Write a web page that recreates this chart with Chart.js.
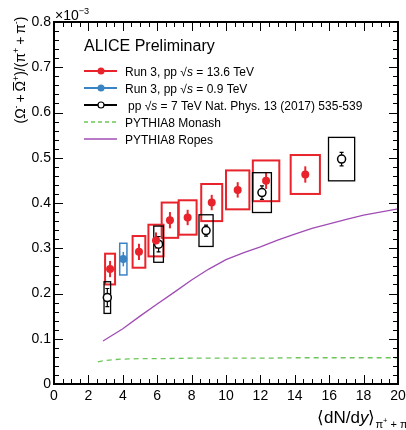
<!DOCTYPE html>
<html>
<head>
<meta charset="utf-8">
<script src="https://cdn.jsdelivr.net/npm/chart.js@4.4.1/dist/chart.umd.min.js"></script>
<style>
  html, body { margin: 0; padding: 0; background: #fff; }
  #wrap { width: 406px; height: 430px; position: relative; }
</style>
</head>
<body>
<div id="wrap"><canvas id="chart" width="406" height="430"></canvas></div>
<script>
'use strict';

// ── Data (values in units of 10^-3) ───────────────────────────
const run3HighX    = [3.26, 4.94, 5.93, 6.74, 7.77, 9.17, 10.68, 12.33, 14.61];
const run3HighY    = [0.254, 0.292, 0.317, 0.362, 0.368, 0.401, 0.429, 0.449, 0.463];
const run3HighStat = [0.018, 0.018, 0.018, 0.018, 0.017, 0.017, 0.017, 0.018, 0.018];
const run3HighSysX = [0.29, 0.37, 0.44, 0.48, 0.52, 0.61, 0.68, 0.77, 0.85];
const run3HighSysY = [0.034, 0.035, 0.035, 0.039, 0.038, 0.041, 0.043, 0.045, 0.043];

const run3LowX    = [4.03];
const run3LowY    = [0.276];
const run3LowStat = [0.016];
const run3LowSysX = [0.21];
const run3LowSysY = [0.035];

const pp7X    = [3.10, 6.08, 8.84, 12.09, 16.72];
const pp7Y    = [0.191, 0.309, 0.339, 0.423, 0.497];
const pp7Stat = [0.020, 0.017, 0.012, 0.015, 0.015];
const pp7SysX = [0.19, 0.28, 0.41, 0.55, 0.76];
const pp7SysY = [0.035, 0.040, 0.035, 0.044, 0.048];

const monashX = [2.55, 3.0, 3.5, 4, 5, 6, 8, 10, 12, 14, 16, 18, 20];
const monashY = [0.049, 0.052, 0.054, 0.055, 0.056, 0.056, 0.057, 0.057, 0.057, 0.058, 0.058, 0.058, 0.058];

const ropesX = [2.85, 4, 5, 6, 7, 8, 9, 10, 11, 12, 13, 14, 15, 16, 17, 18, 20];
const ropesY = [0.095, 0.122, 0.150, 0.177, 0.203, 0.230, 0.254, 0.275, 0.290, 0.303, 0.318, 0.331, 0.344, 0.354, 0.364, 0.373, 0.387];

const xTicks = [0, 2, 4, 6, 8, 10, 12, 14, 16, 18, 20];
const yTicks = [0, 0.1, 0.2, 0.3, 0.4, 0.5, 0.6, 0.7, 0.8];

// ── Colours ───────────────────────────────────────────────────
const RED    = '#e8232b';
const BLUE   = '#3b84c4';
const BLACK  = '#000000';
const GREEN  = '#6cc65a';
const PURPLE = '#a04cb4';
const FONT   = '"Liberation Sans", Arial, sans-serif';

const zip = (xs, ys) => xs.map((x, i) => ({ x, y: ys[i] }));

// text pieces: {t, sup, sub, subsup, it, over}
function pieceSize(p, size) {
  if (p.subsup) return size * 0.45;
  return (p.sup || p.sub) ? size * 0.65 : size;
}
function richWidth(ctx, parts, size) {
  let w = 0;
  parts.forEach(p => {
    ctx.font = (p.it ? 'italic ' : '') + pieceSize(p, size) + 'px ' + FONT;
    w += ctx.measureText(p.t).width;
  });
  return w;
}
function drawRich(ctx, x, y, parts, size) {
  ctx.textBaseline = 'alphabetic';
  ctx.textAlign = 'left';
  parts.forEach(p => {
    ctx.font = (p.it ? 'italic ' : '') + pieceSize(p, size) + 'px ' + FONT;
    let dy = 0;
    if (p.sup) dy = -size * 0.45;
    if (p.sub) dy = size * 0.3;
    if (p.subsup) dy = 0;
    ctx.fillText(p.t, x, y + dy);
    const w = ctx.measureText(p.t).width;
    if (p.over) {
      ctx.save();
      ctx.lineWidth = 1;
      ctx.beginPath();
      ctx.moveTo(x + 1, y - size * 0.82);
      ctx.lineTo(x + w - 1, y - size * 0.82);
      ctx.stroke();
      ctx.restore();
    }
    x += w;
  });
  return x;
}

// ── Boxes + error bars (under the markers) ────────────────────
function drawUncertainties(chart) {
  const ctx = chart.ctx, xs = chart.scales.x, ys = chart.scales.y;
  const groups = [
    { x: run3HighX, y: run3HighY, st: run3HighStat, sx: run3HighSysX, sy: run3HighSysY, c: RED,   bw: 2,   ew: 2,   cap: 0 },
    { x: run3LowX,  y: run3LowY,  st: run3LowStat,  sx: run3LowSysX,  sy: run3LowSysY,  c: BLUE,  bw: 1.5, ew: 1.5, cap: 0 },
    { x: pp7X,      y: pp7Y,      st: pp7Stat,      sx: pp7SysX,      sy: pp7SysY,      c: BLACK, bw: 1.3, ew: 1.2, cap: 2 }
  ];
  ctx.save();
  groups.forEach(g => {
    g.x.forEach((xv, i) => {
      const l = xs.getPixelForValue(xv - g.sx[i]);
      const r = xs.getPixelForValue(xv + g.sx[i]);
      const t = ys.getPixelForValue(g.y[i] + g.sy[i]);
      const b = ys.getPixelForValue(g.y[i] - g.sy[i]);
      ctx.strokeStyle = g.c;
      ctx.lineWidth = g.bw;
      ctx.strokeRect(l, t, r - l, b - t);

      const px = xs.getPixelForValue(xv);
      const et = ys.getPixelForValue(g.y[i] + g.st[i]);
      const eb = ys.getPixelForValue(g.y[i] - g.st[i]);
      ctx.lineWidth = g.ew;
      ctx.beginPath();
      ctx.moveTo(px, et); ctx.lineTo(px, eb);
      if (g.cap) {
        ctx.moveTo(px - g.cap, et); ctx.lineTo(px + g.cap, et);
        ctx.moveTo(px - g.cap, eb); ctx.lineTo(px + g.cap, eb);
      }
      ctx.stroke();
    });
  });
  ctx.restore();
}

// ── ROOT-style frame, ticks, labels and legend ────────────────
function drawFrame(chart) {
  const ctx = chart.ctx, xs = chart.scales.x, ys = chart.scales.y;
  const { left, right, top, bottom } = chart.chartArea;
  ctx.save();
  ctx.strokeStyle = '#000';
  ctx.fillStyle = '#000';

  ctx.lineWidth = 1;
  ctx.beginPath();
  for (let v = 0; v <= 20.001; v += 0.5) {
    const px = Math.round(xs.getPixelForValue(v)) + 0.5;
    const len = Math.abs(v / 2 - Math.round(v / 2)) < 1e-6 ? 9 : 5;
    ctx.moveTo(px, bottom); ctx.lineTo(px, bottom - len);
    ctx.moveTo(px, top);    ctx.lineTo(px, top + len);
  }
  for (let k = 0; k <= 40; k++) {
    const v = k * 0.02;
    const py = Math.round(ys.getPixelForValue(v)) + 0.5;
    const len = k % 5 === 0 ? 9 : 5;
    ctx.moveTo(left, py);  ctx.lineTo(left + len, py);
    ctx.moveTo(right, py); ctx.lineTo(right - len, py);
  }
  ctx.stroke();

  ctx.lineWidth = 2;
  ctx.strokeRect(left, top, right - left, bottom - top);

  // tick labels
  ctx.font = '14px ' + FONT;
  ctx.textAlign = 'center';
  ctx.textBaseline = 'top';
  xTicks.forEach(v => ctx.fillText(String(v), xs.getPixelForValue(v), bottom + 5));
  ctx.textAlign = 'right';
  ctx.textBaseline = 'middle';
  yTicks.forEach(v => ctx.fillText(v === 0 ? '0' : v.toFixed(1), left - 3, ys.getPixelForValue(v)));

  // exponent
  drawRich(ctx, left + 1, 20, [{ t: '×10' }, { t: '−3', sup: true }], 14);

  // y title (rotated)
  const yParts = [
    { t: '(Ω' }, { t: '-', sup: true }, { t: '\u2009+\u2009' }, { t: 'Ω', over: true }, { t: '+', sup: true },
    { t: ')/(π' }, { t: '+', sup: true }, { t: '\u2009+\u2009π' }, { t: '-', sup: true }, { t: ')' }
  ];
  const ySize = 14;
  const yw = richWidth(ctx, yParts, ySize);
  ctx.save();
  ctx.translate(25, 70);
  ctx.rotate(-Math.PI / 2);
  drawRich(ctx, -yw / 2, 0, yParts, ySize);
  ctx.restore();

  // x title
  const xParts = [
    { t: '⟨dN/d' }, { t: 'y', it: true }, { t: '⟩' }, { t: 'π', sub: true }, { t: '+', subsup: true },
    { t: ' + π', sub: true }, { t: '-', subsup: true }
  ];
  drawRich(ctx, 317, 423, xParts, 17);

  // legend
  ctx.font = '16px ' + FONT;
  ctx.textAlign = 'left';
  ctx.textBaseline = 'middle';
  ctx.fillText('ALICE Preliminary', 84, 47);

  const lx0 = 84, lx1 = 117, mx = 101, tx = 125;
  const rows = [71, 88, 105, 122, 139];
  const rs = 12;
  const entry = (y, color, marker, dash) => {
    ctx.save();
    ctx.strokeStyle = color;
    ctx.lineWidth = marker ? 2 : 1.3;
    if (dash) ctx.setLineDash(dash);
    ctx.beginPath(); ctx.moveTo(lx0, y); ctx.lineTo(lx1, y); ctx.stroke();
    ctx.setLineDash([]);
    if (marker === 'fill') {
      ctx.fillStyle = color;
      ctx.beginPath(); ctx.arc(mx, y, 3.5, 0, Math.PI * 2); ctx.fill();
    } else if (marker === 'open') {
      ctx.fillStyle = '#fff';
      ctx.lineWidth = 1.2;
      ctx.beginPath(); ctx.arc(mx, y, 3, 0, Math.PI * 2); ctx.fill(); ctx.stroke();
    }
    ctx.restore();
  };
  entry(rows[0], RED, 'fill');
  entry(rows[1], BLUE, 'fill');
  entry(rows[2], BLACK, 'open');
  entry(rows[3], GREEN, null, [4, 3]);
  entry(rows[4], PURPLE, null);

  ctx.fillStyle = '#000';
  const base = y => y + 4.5;
  drawRich(ctx, tx, base(rows[0]), [{ t: 'Run 3, pp ' }, { t: '√' }, { t: 's', it: true }, { t: ' = 13.6 TeV' }], rs);
  drawRich(ctx, tx, base(rows[1]), [{ t: 'Run 3, pp ' }, { t: '√' }, { t: 's', it: true }, { t: ' = 0.9 TeV' }], rs);
  drawRich(ctx, tx + 3, base(rows[2]), [{ t: 'pp ' }, { t: '√' }, { t: 's', it: true }, { t: ' = 7 TeV Nat. Phys. 13 (2017) 535-539' }], rs);
  drawRich(ctx, tx, base(rows[3]), [{ t: 'PYTHIA8 Monash' }], rs);
  drawRich(ctx, tx, base(rows[4]), [{ t: 'PYTHIA8 Ropes' }], rs);

  ctx.restore();
}

const framePlugin = {
  id: 'rootFrame',
  beforeDatasetsDraw: drawUncertainties,
  afterDraw: drawFrame
};

new Chart(document.getElementById('chart'), {
  type: 'scatter',
  data: {
    datasets: [
      { type: 'line', label: 'PYTHIA8 Ropes', data: zip(ropesX, ropesY), borderColor: PURPLE, borderWidth: 1.3, pointRadius: 0, fill: false, tension: 0 },
      { type: 'line', label: 'PYTHIA8 Monash', data: zip(monashX, monashY), borderColor: GREEN, borderWidth: 1.3, borderDash: [5, 4], pointRadius: 0, fill: false, tension: 0 },
      { label: 'Run 3, pp 13.6 TeV', data: zip(run3HighX, run3HighY), backgroundColor: RED, borderColor: RED, pointRadius: 4, borderWidth: 0 },
      { label: 'Run 3, pp 0.9 TeV', data: zip(run3LowX, run3LowY), backgroundColor: BLUE, borderColor: BLUE, pointRadius: 4, borderWidth: 0 },
      { label: 'pp 7 TeV', data: zip(pp7X, pp7Y), backgroundColor: '#fff', borderColor: BLACK, pointRadius: 4, borderWidth: 1.5 }
    ]
  },
  options: {
    responsive: false,
    animation: false,
    events: [],
    layout: { padding: { left: 54, right: 8, top: 22, bottom: 46 } },
    plugins: { legend: { display: false }, tooltip: { enabled: false } },
    scales: {
      x: { type: 'linear', min: 0, max: 20, display: false },
      y: { type: 'linear', min: 0, max: 0.8, display: false }
    }
  },
  plugins: [framePlugin]
});
</script>
</body>
</html>
